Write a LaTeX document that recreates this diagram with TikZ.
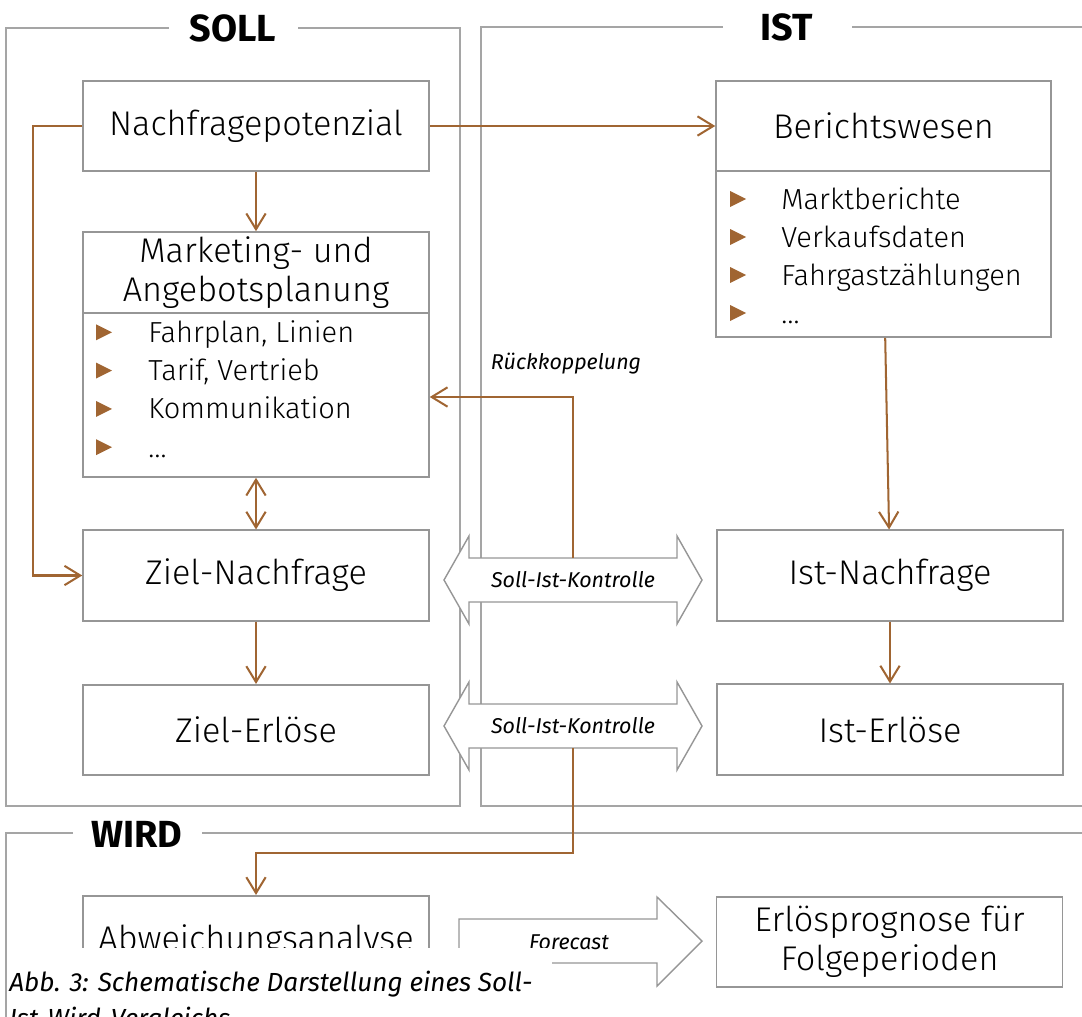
\documentclass[tikz,border=0pt]{standalone}
\usepackage{fontspec}
\setmainfont{Fira Sans}[UprightFont={* Light}, ItalicFont={* Light Italic}, BoldFont={* Bold}]
\newfontfamily\lblfont{Fira Sans}
\usetikzlibrary{arrows.meta,positioning}
\definecolor{brn}{RGB}{160,101,50}
\definecolor{frm}{RGB}{165,165,165}
\definecolor{bxg}{RGB}{150,150,150}
\tikzset{
  box/.style={draw=bxg, line width=0.9pt, minimum width=6.92cm, minimum height=1.81cm,
    inner sep=0pt, align=center, font=\fontsize{19.5}{22}\selectfont},
  item/.style={anchor=base west, inner sep=0pt, font=\fontsize{16.5}{18}\selectfont},
  flow/.style={draw=brn, line width=1.15pt, -{Straight Barb[length=9pt,width=11pt]}},
  frame/.style={draw=frm, line width=0.9pt},
  head/.style={inner sep=0pt, font=\fontsize{21.5}{24}\selectfont\bfseries},
  lbl/.style={inner sep=0pt, font=\lblfont\fontsize{12.2}{15}\selectfont\itshape},
  blockarrow/.style={draw=bxg, line width=0.8pt, fill=white},
}
\begin{document}
\begin{tikzpicture}[x=0.02cm,y=-0.02cm]
  \useasboundingbox (0,0) rectangle (1082,1017);
  \clip (0,0) rectangle (1082,1017);
  % frames
  \draw[frame] (169,28) -- (6,28) -- (6,806) -- (460,806) -- (460,28) -- (298,28);
  \draw[frame] (723,27) -- (481,27) -- (481,806) -- (1090,806);
  \draw[frame] (852,27) -- (1090,27);
  \draw[frame] (73,833) -- (6,833) -- (6,1030);
  \draw[frame] (202,833) -- (1090,833);
  \node[head] (soll) at (233,28) {SOLL};
  \node[head] (ist) at (787,27) {IST};
  \node[head] (wird) at (137,834) {WIRD};
  % SOLL column
  \node[box] (potenzial) at (256,126) {Nachfragepotenzial};
  \node[box, minimum height=1.62cm] (mktTitle) at (256,272.5) {Marketing- und\\Angebotsplanung};
  \node[box, minimum height=3.28cm] (mktList) at (256,395) {};
  \node[box] (zielNachfrage) at (256,575.5) {Ziel-Nachfrage};
  \node[box] (zielErloese) at (256,730) {Ziel-Erlöse};
  \foreach \t [count=\i] in {{Fahrplan, Linien},{Tarif, Vertrieb},Kommunikation,…}{
    \node[item] (mkt\i) at (148,304+38.3*\i) {\t};
    \fill[brn] (96,286+38.3*\i) -- (112,294+38.3*\i) -- (96,302+38.3*\i) -- cycle;
  }
  % IST column
  \node[box, minimum width=6.70cm] (bericht) at (883.5,126) {Berichtswesen};
  \node[box, minimum width=6.70cm, minimum height=3.32cm] (berichtList) at (883.5,254) {};
  \node[box] (istNachfrage) at (890,575.5) {Ist-Nachfrage};
  \node[box] (istErloese) at (890,729.5) {Ist-Erlöse};
  \foreach \t [count=\i] in {Marktberichte,Verkaufsdaten,Fahrgastzählungen,…}{
    \node[item] (ber\i) at (781,171+38*\i) {\t};
    \fill[brn] (730,153+38*\i) -- (746,161+38*\i) -- (730,169+38*\i) -- cycle;
  }
  % WIRD
  \node[box] (abweichung) at (256,941) {Abweichungsanalyse};
  \node[box] (prognose) at (889.5,942) {Erlösprognose für\\Folgeperioden};
  % block arrows
  \draw[blockarrow] (444,580) -- (469,536) -- (469,558) -- (677,558) -- (677,536) -- (702,580)
    -- (677,624) -- (677,602) -- (469,602) -- (469,624) -- cycle;
  \node[lbl, minimum height=0.88cm] (kontrolleA) at (573,580) {Soll-Ist-Kontrolle};
  \draw[blockarrow] (444,726) -- (469,682) -- (469,704) -- (677,704) -- (677,682) -- (702,726)
    -- (677,770) -- (677,748) -- (469,748) -- (469,770) -- cycle;
  \node[lbl, minimum height=0.88cm] (kontrolleB) at (573,726) {Soll-Ist-Kontrolle};
  \draw[blockarrow] (459,919) -- (657,919) -- (657,897) -- (702,941) -- (657,986) -- (657,963)
    -- (459,963) -- cycle;
  \node[lbl] (forecast) at (569,942) {Forecast};
  % connectors
  \draw[flow] (potenzial) -- (mktTitle);
  \draw[flow] (potenzial) -- (bericht);
  \draw[flow] (potenzial.west) -- ++(-49,0) |- (zielNachfrage.west);
  \draw[flow, {Straight Barb[length=9pt,width=11pt]}-{Straight Barb[length=9pt,width=11pt]}] (mktList) -- (zielNachfrage);
  \draw[flow] (zielNachfrage) -- (zielErloese);
  \draw[flow] (berichtList) -- (istNachfrage);
  \draw[flow] (istNachfrage) -- (istErloese);
  \draw[flow] (kontrolleA.north) |- (mktList.east |- 0,397);
  \node[lbl] (rueck) at (566,364) {Rückkoppelung};
  \draw[flow] (kontrolleB.south) -- ++(0,105) -| (abweichung.north);
  % caption
  \fill[white] (8,948) rectangle (552,1030);
  \node[inner sep=0pt, anchor=north west, align=left, font=\lblfont\fontsize{14.9}{20.5}\selectfont\itshape]
    (caption) at (9,971) {Abb. 3: Schematische Darstellung eines Soll-\\Ist-Wird-Vergleichs};
\end{tikzpicture}
\end{document}
